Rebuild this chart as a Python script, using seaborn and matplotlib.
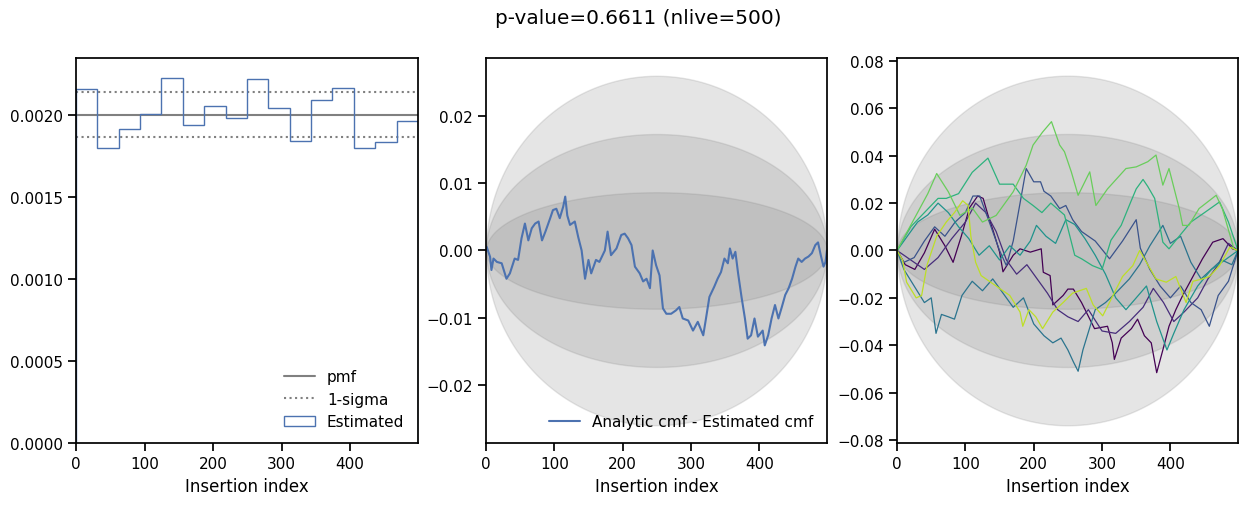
#!/usr/bin/env python3

import matplotlib
matplotlib.use("Agg")
import matplotlib.pyplot as plt
import numpy as np
import pandas as pd
import seaborn as sns

nlive = 500
p_value = 0.6611
# samples behind the analytic 1-sigma bands (middle / right panels)
n_samples_mid = 3341
n_samples_runs = 413

# left panel: estimated pmf in 16 bins, analytic pmf and its 1-sigma band
hist_values = [0.002163, 0.001803, 0.001919, 0.002010, 0.002230, 0.001943,
               0.002059, 0.001982, 0.002224, 0.002043, 0.001846, 0.002096,
               0.002165, 0.001803, 0.001834, 0.001968]
pmf_value = 0.0020
one_sigma = [0.001868, 0.002142]

# middle panel: analytic cmf - estimated cmf
mid_k = [0, 1, 6, 8, 11, 16, 23, 30, 35, 42, 47, 52, 57, 62, 67, 72, 77, 82,
         87, 94, 98, 103, 108, 113, 116, 119, 123, 130, 135, 140, 145, 150,
         154, 161, 166, 174, 178, 183, 191, 198, 203, 208, 213, 218, 225, 230,
         235, 240, 244, 249, 254, 259, 264, 271, 278, 283, 288, 296, 303, 310,
         318, 322, 327, 334, 339, 344, 349, 354, 357, 361, 365, 369, 374, 379,
         383, 388, 393, 398, 405, 408, 413, 418, 423, 428, 433, 438, 443, 448,
         453, 457, 462, 467, 472, 477, 482, 486, 490, 494, 497, 499]
mid_diff = [0.0, 0.00055, -0.00094, -0.0029, -0.0012, -0.0017, -0.0019,
            -0.0042, -0.0034, -0.0012, -0.0014, 0.0018, 0.0040, 0.0015,
            0.0033, 0.0040, 0.0043, 0.0015, 0.0028, 0.0048, 0.0060, 0.0062,
            0.0048, 0.0065, 0.0080, 0.0052, 0.0038, 0.0043, 0.0020, 0.0000,
            -0.0042, -0.0014, -0.0034, -0.0014, -0.0017, 0.0000, 0.0028,
            -0.0007, 0.0003, 0.0023, 0.0025, 0.0018, 0.0008, -0.0024, -0.0034,
            -0.0046, -0.0042, -0.0056, 0.0000, -0.0022, -0.0037, -0.0086,
            -0.0094, -0.0094, -0.0089, -0.0084, -0.0101, -0.0104, -0.0119,
            -0.0106, -0.0126, -0.0101, -0.0069, -0.0054, -0.0042, -0.0032,
            -0.0012, -0.0019, 0.0003, -0.0012, -0.0002, -0.0034, -0.0069,
            -0.0101, -0.0131, -0.0126, -0.0101, -0.0128, -0.0119, -0.0141,
            -0.0126, -0.0101, -0.0081, -0.0101, -0.0084, -0.0066, -0.0056,
            -0.0042, -0.0024, -0.0012, -0.0017, -0.0012, -0.0009, -0.0004,
            0.0008, 0.0012, -0.0007, -0.0024, -0.0017, 0.0000]

# right panel: the same difference for several runs, (index, value) pairs
run0 = [(0, 0.0), (12, -0.006), (26, -0.008), (40, -0.001), (55, 0.009),
        (70, 0.002), (82, -0.005), (94, 0.006), (106, 0.018), (118, 0.023),
        (126, 0.022), (133, 0.015), (141, 0.008), (150, -0.0006),
        (155, -0.009), (170, -0.002), (180, 0.0007), (195, -0.0007),
        (211, 0.0007), (214, -0.0092), (224, -0.0106), (228, -0.023),
        (243, -0.019), (250, -0.0163), (258, -0.0163), (270, -0.022),
        (289, -0.033), (308, -0.032), (315, -0.039), (318, -0.046),
        (328, -0.037), (343, -0.033), (352, -0.029), (362, -0.036),
        (372, -0.039), (380, -0.0516), (389, -0.042), (398, -0.032),
        (408, -0.025), (418, -0.019), (433, -0.011), (447, -0.0035),
        (462, 0.0035), (477, 0.005), (491, 0.0007), (499, 0.0)]
run1 = [(0, 0.0), (20, -0.004), (40, -0.008), (60, -0.003), (80, 0.005),
        (100, 0.012), (115, 0.02), (130, 0.016), (145, 0.008), (160, -0.004),
        (175, -0.01), (190, -0.006), (205, -0.012), (220, -0.018),
        (235, -0.025), (250, -0.028), (265, -0.03), (280, -0.025),
        (300, -0.034), (320, -0.035), (340, -0.03), (360, -0.024),
        (375, -0.016), (390, -0.022), (405, -0.03), (420, -0.026),
        (440, -0.02), (455, -0.012), (470, -0.006), (485, 0.003), (499, 0.0)]
run2 = [(0, 0.0), (10, -0.005), (25, -0.003), (40, 0.004), (55, 0.010),
        (70, 0.006), (85, 0.012), (100, 0.016), (111, 0.023), (121, 0.023),
        (135, 0.012), (150, 0.0), (160, -0.0064), (170, 0.004), (180, 0.02),
        (189, 0.0346), (200, 0.029), (210, 0.029), (215, 0.025), (225, 0.023),
        (238, 0.0177), (247, 0.019), (257, 0.013), (270, 0.008), (290, 0.004),
        (311, -0.0035), (330, 0.004), (350, 0.013), (356, 0.001),
        (370, -0.008), (385, -0.015), (400, -0.020), (415, -0.015),
        (430, -0.022), (445, -0.025), (457, -0.032), (470, -0.019),
        (485, -0.013), (499, 0.0)]
run3 = [(0, 0.0), (10, -0.008), (25, -0.015), (40, -0.022), (50, -0.02),
        (57, -0.035), (65, -0.027), (75, -0.028), (84, -0.029), (95, -0.019),
        (110, -0.013), (125, -0.017), (140, -0.012), (155, -0.018),
        (170, -0.024), (185, -0.02), (200, -0.031), (215, -0.036),
        (228, -0.039), (240, -0.037), (250, -0.042), (258, -0.047),
        (265, -0.051), (272, -0.042), (290, -0.025), (305, -0.022),
        (320, -0.018), (340, -0.012), (355, -0.006), (370, 0.002),
        (389, 0.0106), (400, 0.003), (415, 0.006), (430, -0.005),
        (445, -0.012), (460, -0.008), (475, -0.004), (490, -0.006), (499, 0.0)]
run4 = [(0, 0.0), (15, 0.006), (30, 0.012), (45, 0.015), (60, 0.02),
        (75, 0.016), (90, 0.01), (105, 0.005), (120, -0.002), (135, 0.002),
        (150, -0.004), (165, 0.002), (180, -0.002), (195, 0.004),
        (204, 0.0106), (218, 0.006), (232, 0.003), (247, 0.013), (260, 0.011),
        (275, 0.005), (290, -0.002), (305, -0.01), (320, -0.02), (335, -0.025),
        (350, -0.02), (365, -0.015), (380, -0.03), (395, -0.042),
        (405, -0.035), (420, -0.025), (440, -0.015), (460, -0.008),
        (480, -0.004), (499, 0.0)]
run5 = [(0, 0.0), (20, 0.01), (40, 0.016), (60, 0.022), (72, 0.022),
        (90, 0.024), (110, 0.033), (133, 0.039), (150, 0.028), (170, 0.028),
        (185, 0.022), (199, 0.019), (212, 0.016), (225, 0.02), (245, 0.015),
        (260, -0.002), (270, -0.0035), (286, -0.0064), (300, -0.008),
        (313, 0.0043), (328, 0.0106), (342, 0.0205), (350, 0.026),
        (360, 0.03), (367, 0.027), (377, 0.022), (389, 0.0035),
        (398, 0.0007), (410, 0.005), (430, 0.012), (450, 0.016),
        (472, 0.0205), (485, 0.012), (499, 0.0)]
run6 = [(0, 0.0), (15, 0.008), (30, 0.016), (45, 0.024), (58, 0.0325),
        (75, 0.0248), (92, 0.0148), (110, 0.018), (125, 0.012),
        (145, 0.0148), (170, 0.0248), (189, 0.036), (199, 0.0445),
        (213, 0.050), (226, 0.0544), (238, 0.0445), (245, 0.0417),
        (255, 0.0332), (265, 0.0233), (282, 0.0332), (291, 0.019),
        (308, 0.026), (335, 0.0346), (350, 0.0353), (367, 0.0375),
        (379, 0.0403), (389, 0.0276), (398, 0.0346), (413, 0.0177),
        (418, 0.0106), (427, 0.0106), (442, 0.0177), (467, 0.0233),
        (476, 0.0177), (493, 0.0007), (499, 0.0)]
run7 = [(0, 0.0), (8, -0.004), (14, -0.0134), (28, -0.02), (36, -0.019),
        (44, -0.006), (58, 0.006), (72, 0.012), (84, 0.016), (96, 0.021),
        (104, 0.019), (108, 0.006), (115, -0.005), (123, -0.0106),
        (135, -0.013), (150, -0.016), (165, -0.019), (180, -0.026),
        (184, -0.032), (193, -0.025), (203, -0.028), (213, -0.033),
        (228, -0.026), (243, -0.022), (257, -0.018), (277, -0.016),
        (287, -0.023), (301, -0.0276), (316, -0.019), (330, -0.011),
        (345, -0.0064), (355, 0.0), (365, -0.005), (379, -0.012),
        (394, -0.0134), (408, -0.011), (423, -0.022), (433, -0.013),
        (447, -0.012), (457, -0.011), (472, -0.0064), (487, 0.0014),
        (499, 0.0)]
runs = [run0, run1, run2, run3, run4, run5, run6, run7]

blue = "#4c72b0"

sns.set_theme(
    style="ticks",
    context="notebook",
    rc={
        "text.color": "black",
        "axes.labelcolor": "black",
        "axes.edgecolor": "black",
        "xtick.color": "black",
        "ytick.color": "black",
    },
)

fig = plt.figure(figsize=(12.48, 5.06), dpi=100)
ax1 = fig.add_axes([0.0609, 0.1225, 0.274, 0.761])
ax2 = fig.add_axes([0.3894, 0.1225, 0.2732, 0.761])
ax3 = fig.add_axes([0.7188, 0.1225, 0.2732, 0.761])

# left: pmf
edges = np.linspace(0, nlive - 1, len(hist_values) + 1)
ax1.axhline(pmf_value, color="grey", lw=1.5, label="pmf")
ax1.axhline(one_sigma[0], color="grey", ls=":", lw=1.5, label="1-sigma")
ax1.axhline(one_sigma[1], color="grey", ls=":", lw=1.5)
ax1.hist(edges[:-1], bins=edges, weights=hist_values, histtype="step",
         color=blue, lw=1.0, label="Estimated")
ax1.set_xlim(0, nlive - 1)
ax1.set_ylim(0, 0.00235)
ax1.set_yticks([0, 0.0005, 0.0010, 0.0015, 0.0020])
ax1.set_xlabel("Insertion index")
ax1.legend(loc="lower right", frameon=False, fontsize=11)


def sigma_band(ax, n):
    k = np.arange(nlive)
    cmf = k / (nlive - 1)
    sig = np.sqrt(cmf * (1 - cmf) / n)
    for s in (3, 2, 1):
        ax.fill_between(k, -s * sig, s * sig, color="grey", alpha=0.2)


# middle: single run
sigma_band(ax2, n_samples_mid)
sns.lineplot(x=mid_k, y=mid_diff, ax=ax2, color=blue, lw=1.5,
             estimator=None, label="Analytic cmf - Estimated cmf")
ax2.set_xlim(0, nlive - 1)
ax2.set_ylim(-0.0286, 0.0286)
ax2.set_yticks([-0.02, -0.01, 0.0, 0.01, 0.02])
ax2.set_xlabel("Insertion index")
ax2.legend(loc="lower right", frameon=False, fontsize=11)

# right: several runs
sigma_band(ax3, n_samples_runs)
runs_df = pd.DataFrame(
    [(i, k, v) for i, run in enumerate(runs) for k, v in run],
    columns=["run", "k", "v"],
)
run_colors = [plt.cm.viridis(c) for c in np.linspace(0, 0.9, len(runs))]
sns.lineplot(data=runs_df, x="k", y="v", hue="run", ax=ax3,
             palette=run_colors, estimator=None, sort=False, lw=0.9,
             legend=False)
ax3.set_xlim(0, nlive - 1)
ax3.set_ylim(-0.0813, 0.0813)
ax3.set_yticks(np.arange(-0.08, 0.081, 0.02))
ax3.set_xlabel("Insertion index")
ax3.set_ylabel("")

for ax in (ax1, ax2, ax3):
    ax.set_xticks([0, 100, 200, 300, 400])

fig.suptitle("p-value=%.4f (nlive=%d)" % (p_value, nlive), x=0.5116,
             y=0.964, va="center", fontsize=14.4)

fig.savefig("out.png", dpi=100)
